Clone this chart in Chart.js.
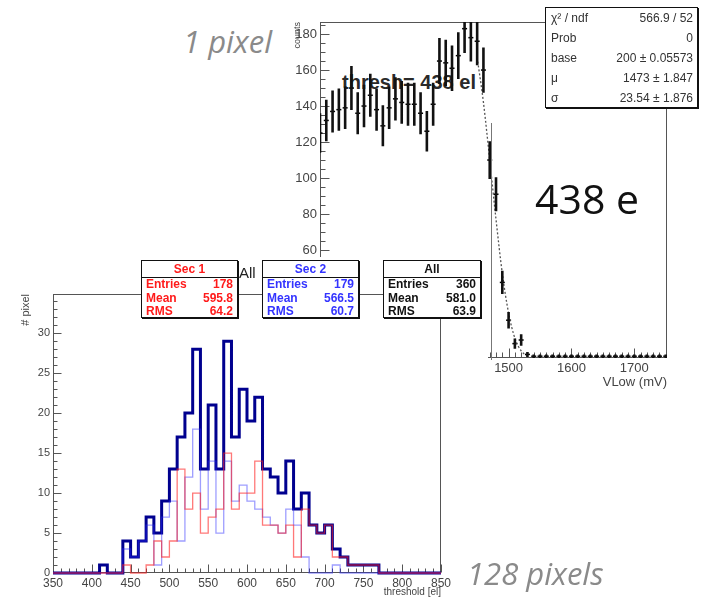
<!DOCTYPE html>
<html lang="en">
<head>
<meta charset="utf-8">
<title>VLow scan and threshold distribution</title>
<script src="https://cdn.jsdelivr.net/npm/chart.js@4.4.1/dist/chart.umd.min.js"></script>
<style>
  html, body { margin: 0; padding: 0; background: #fff; }
  body { position: relative; width: 706px; height: 597px; overflow: hidden; font-family: "Liberation Sans", Arial, sans-serif; }
  #scanBox { position: absolute; left: 290px; top: 0; z-index: 2; }
  #histBox { position: absolute; left: 0; top: 257px; width: 488px; height: 340px; background: #fff; z-index: 4; }
  .note { position: absolute; white-space: nowrap; line-height: 1; }
  .stats { position: absolute; box-sizing: border-box; background: #fff; border: 1px solid #111; box-shadow: 1px 1px 0 #111; z-index: 5; font: bold 12px "Liberation Sans", Arial, sans-serif; }
  .stats .head { text-align: center; height: 16px; line-height: 16px; border-bottom: 1px solid #111; }
  .stats .row { display: flex; justify-content: space-between; padding: 0 4px; height: 13.5px; line-height: 13.5px; }
  #fitStats { left: 545px; top: 7px; width: 153px; height: 101px; font-weight: normal; color: #333; z-index: 3; }
  #fitStats .row { height: 20px; line-height: 20px; padding: 0 4px 0 5px; }
</style>
</head>
<body>

<div class="note" style="left:342px; top:71px; font: bold 20px 'Liberation Sans', Arial, sans-serif; color:#2a2a2a; z-index:1;">thresh= 438 el</div>

<div id="scanBox"><canvas id="scan" width="416" height="390"></canvas></div>

<div id="fitStats" class="stats">
  <div class="row"><span>χ² / ndf</span><span>566.9 / 52</span></div>
  <div class="row"><span>Prob</span><span>0</span></div>
  <div class="row"><span>base</span><span>200 ± 0.05573</span></div>
  <div class="row"><span>μ</span><span>1473 ± 1.847</span></div>
  <div class="row"><span>σ</span><span>23.54 ± 1.876</span></div>
</div>

<div class="note" style="left:535px; top:170px; font: 41px 'Open Sans', sans-serif; color:#111; z-index:3;">438 e</div>

<div id="histBox"><canvas id="hist" width="488" height="340"></canvas></div>

<div class="stats" style="left:141px; top:260px; width:97px; height:58px; color:#ff1a1a;">
  <div class="head">Sec 1</div>
  <div class="row"><span>Entries</span><span>178</span></div>
  <div class="row"><span>Mean</span><span>595.8</span></div>
  <div class="row"><span>RMS</span><span>64.2</span></div>
</div>
<div class="note" style="left:239px; top:264px; font: 15px 'Liberation Sans', Arial, sans-serif; color:#222; z-index:5;">All</div>
<div class="stats" style="left:262px; top:260px; width:97px; height:58px; color:#3333ff;">
  <div class="head">Sec 2</div>
  <div class="row"><span>Entries</span><span>179</span></div>
  <div class="row"><span>Mean</span><span>566.5</span></div>
  <div class="row"><span>RMS</span><span>60.7</span></div>
</div>
<div class="stats" style="left:383px; top:260px; width:98px; height:58px; color:#111;">
  <div class="head">All</div>
  <div class="row"><span>Entries</span><span>360</span></div>
  <div class="row"><span>Mean</span><span>581.0</span></div>
  <div class="row"><span>RMS</span><span>63.9</span></div>
</div>

<div style="position:absolute; left:491px; top:123px; width:1px; height:237px; background:#777; z-index:5;"></div>

<div class="note" style="left:183px; top:20px; font: italic 31px 'Open Sans', sans-serif; color:#8a8a8a; z-index:5;">1 pixel</div>
<div class="note" style="left:467px; top:552px; font: italic 31px 'Open Sans', sans-serif; color:#8a8a8a; z-index:5;">128 pixels</div>

<script>
const FONT = '"Liberation Sans", Arial, sans-serif';

// upper plot: counts vs VLow (mV)
const vlow = [1200, 1210, 1220, 1230, 1240, 1250, 1260, 1270, 1280, 1290,
  1300, 1310, 1320, 1330, 1340, 1350, 1360, 1370, 1380, 1390,
  1400, 1410, 1420, 1430, 1440, 1450, 1460, 1470, 1480, 1490,
  1500, 1510, 1520, 1530, 1540, 1550, 1560, 1570, 1580, 1590,
  1600, 1610, 1620, 1630, 1640, 1650, 1660, 1670, 1680, 1690,
  1700, 1710, 1720, 1730, 1740, 1750];
const counts = [125, 132, 137, 138, 139, 150, 136, 140, 146, 138,
  129, 139, 144, 142, 141, 141, 136, 126, 141, 165,
  164, 161, 168, 183, 178, 176, 160, 110, 91, 42,
  21, 8, 10, 2, 1, 1, 1, 1, 1, 1,
  1, 1, 1, 1, 1, 1, 1, 1, 1, 1,
  1, 1, 1, 1, 1, 1];
const countErr = [11, 11.5, 11.7, 11.7, 11.8, 12.2, 11.7, 11.8, 12, 11.7,
  11.4, 11.8, 12, 11.9, 11.9, 11.9, 11.7, 11.2, 11.9, 12.8,
  12.8, 12.7, 13, 13.5, 13.3, 13.3, 12.6, 10.5, 9.5, 6.5,
  4.6, 2.8, 3.2, 1.4, 1, 1, 1, 1, 1, 1,
  1, 1, 1, 1, 1, 1, 1, 1, 1, 1,
  1, 1, 1, 1, 1, 1];
// fitted edge (dotted line)
const fitX = [1450, 1460, 1470, 1480, 1490, 1500, 1510, 1520, 1530];
const fitY = [167, 142, 110, 77, 47, 25, 11, 4, 1];

// lower plot: threshold distribution, 10 el bins from 350 to 850
const thrEdges = [350, 360, 370, 380, 390, 400, 410, 420, 430, 440,
  450, 460, 470, 480, 490, 500, 510, 520, 530, 540,
  550, 560, 570, 580, 590, 600, 610, 620, 630, 640,
  650, 660, 670, 680, 690, 700, 710, 720, 730, 740,
  750, 760, 770, 780, 790, 800, 810, 820, 830, 840, 850];
const sec1 = [0, 0, 0, 0, 0, 0, 0, 0, 0, 1,
  0, 0, 1, 4, 2, 4, 13, 8, 10, 5,
  7, 8, 15, 8, 10, 10, 14, 6, 6, 5,
  6, 2, 8, 6, 5, 6, 2, 2, 1, 1,
  1, 1, 0, 0, 0, 0, 0, 0, 0, 0];
const sec2 = [0, 0, 0, 0, 0, 0, 0, 0, 0, 3,
  2, 4, 6, 1, 7, 9, 4, 12, 18, 8,
  14, 5, 14, 9, 11, 9, 8, 7, 6, 5,
  8, 6, 2, 0, 0, 0, 1, 0, 0, 0,
  0, 0, 0, 0, 0, 0, 0, 0, 0, 0];
const allPix = [0, 0, 0, 0, 0, 0, 1, 0, 0, 4,
  2, 4, 7, 5, 9, 13, 17, 20, 28, 13,
  21, 13, 29, 17, 23, 19, 22, 13, 12, 10,
  14, 8, 10, 6, 5, 6, 3, 2, 1, 1,
  1, 1, 0, 0, 0, 0, 0, 0, 0, 0];

// ROOT style frame with inward ticks
const rootAxes = {
  id: 'rootAxes',
  beforeDatasetsDraw(chart, args, o) {
    const { ctx, chartArea: a, scales: { x, y } } = chart;
    const L = Math.round(a.left) + 0.5, R = Math.round(a.right) - 0.5;
    const T = Math.round(a.top) + 0.5, B = Math.round(a.bottom) - 0.5;
    ctx.save();
    ctx.strokeStyle = o.color;
    ctx.lineWidth = 1;
    ctx.strokeRect(L, T, R - L, B - T);
    ctx.beginPath();
    for (let v = Math.ceil(x.min / o.xMinor) * o.xMinor; v <= x.max; v += o.xMinor) {
      const px = Math.round(x.getPixelForValue(v)) + 0.5;
      const len = v % o.xMajor === 0 ? o.majorLen : o.minorLen;
      ctx.moveTo(px, B);
      ctx.lineTo(px, B - len);
    }
    for (let v = Math.ceil(y.min / o.yMinor) * o.yMinor; v <= y.max; v += o.yMinor) {
      const py = Math.round(y.getPixelForValue(v)) + 0.5;
      const len = v % o.yMajor === 0 ? o.majorLen : o.minorLen;
      ctx.moveTo(L, py);
      ctx.lineTo(L + len, py);
    }
    ctx.stroke();
    ctx.restore();
  }
};

const errorBars = {
  id: 'errorBars',
  afterDatasetsDraw(chart) {
    const { ctx, chartArea: a, scales: { x, y } } = chart;
    ctx.save();
    ctx.beginPath();
    ctx.rect(a.left, a.top, a.right - a.left, a.bottom - a.top);
    ctx.clip();
    ctx.strokeStyle = '#111';
    ctx.lineWidth = 2.6;
    ctx.beginPath();
    vlow.forEach((v, i) => {
      const px = x.getPixelForValue(v);
      ctx.moveTo(px, y.getPixelForValue(counts[i] - countErr[i]));
      ctx.lineTo(px, y.getPixelForValue(counts[i] + countErr[i]));
    });
    ctx.stroke();
    ctx.restore();
  }
};

const plain = v => String(v);

new Chart(document.getElementById('scan'), {
  type: 'scatter',
  data: {
    datasets: [
      {
        label: 'fit',
        data: fitX.map((v, i) => ({ x: v, y: fitY[i] })),
        showLine: true,
        borderColor: '#555',
        borderWidth: 1.3,
        borderDash: [2, 2],
        pointRadius: 0,
        cubicInterpolationMode: 'monotone'
      },
      {
        label: 'counts',
        data: vlow.map((v, i) => ({ x: v, y: counts[i] })),
        showLine: false,
        pointStyle: 'line',
        pointRadius: 2.5,
        pointBorderWidth: 1.5,
        borderColor: '#000',
        backgroundColor: '#000'
      }
    ]
  },
  options: {
    responsive: false,
    animation: false,
    events: [],
    layout: { padding: { top: 22, right: 39, left: 0, bottom: 0 } },
    plugins: {
      legend: { display: false },
      tooltip: { enabled: false },
      rootAxes: { color: '#555', xMinor: 10, xMajor: 100, yMinor: 5, yMajor: 20, majorLen: 9, minorLen: 5 }
    },
    scales: {
      x: {
        type: 'linear', min: 1200, max: 1752,
        afterFit: s => { s.height = 32; },
        grid: { display: false, drawTicks: false }, border: { display: false },
        ticks: { stepSize: 100, includeBounds: false, padding: 3, color: '#444', maxRotation: 0, autoSkip: false, callback: plain, font: { size: 13, family: FONT } },
        title: { display: true, text: 'VLow (mV)', align: 'end', color: '#444', padding: 0, font: { size: 13, family: FONT } }
      },
      y: {
        type: 'linear', min: 0, max: 186.7,
        afterFit: s => { s.width = 30; },
        grid: { display: false, drawTicks: false }, border: { display: false },
        ticks: { stepSize: 20, includeBounds: false, padding: 3, color: '#444', callback: plain, font: { size: 13, family: FONT } },
        title: { display: true, text: 'counts', align: 'end', color: '#444', padding: { top: 2, bottom: 0 }, font: { size: 9, family: FONT } }
      }
    }
  },
  plugins: [rootAxes, errorBars]
});

// outline of a histogram: both corners of every bin
function histPoints(arr) {
  const pts = [];
  arr.forEach((c, i) => {
    pts.push({ x: thrEdges[i], y: c });
    pts.push({ x: thrEdges[i + 1], y: c });
  });
  return pts;
}

new Chart(document.getElementById('hist'), {
  type: 'line',
  data: {
    datasets: [
      { label: 'Sec 1', data: histPoints(sec1), borderColor: 'rgba(255,30,30,0.6)', borderWidth: 1.3, pointRadius: 0, clip: 4 },
      { label: 'Sec 2', data: histPoints(sec2), borderColor: 'rgba(40,40,255,0.45)', borderWidth: 1.3, pointRadius: 0, clip: 4 },
      { label: 'All', data: histPoints(allPix), borderColor: '#00008f', borderWidth: 3, pointRadius: 0, borderJoinStyle: 'miter', clip: 4 }
    ]
  },
  options: {
    responsive: false,
    animation: false,
    events: [],
    layout: { padding: { top: 37, right: 47, left: 0, bottom: 0 } },
    plugins: {
      legend: { display: false },
      tooltip: { enabled: false },
      rootAxes: { color: '#555', xMinor: 10, xMajor: 50, yMinor: 1, yMajor: 5, majorLen: 8, minorLen: 4 }
    },
    scales: {
      x: {
        type: 'linear', min: 350, max: 850,
        afterFit: s => { s.height = 24; },
        grid: { display: false, drawTicks: false }, border: { display: false },
        ticks: { stepSize: 50, includeBounds: false, padding: 3, color: '#444', maxRotation: 0, autoSkip: false, callback: plain, font: { size: 12, family: FONT } },
        title: { display: true, text: 'threshold [el]', align: 'end', color: '#444', padding: 0, font: { size: 10, family: FONT, lineHeight: 1 } }
      },
      y: {
        type: 'linear', min: 0, max: 34.9,
        afterFit: s => { s.width = 53; },
        grid: { display: false, drawTicks: false }, border: { display: false },
        ticks: { stepSize: 5, includeBounds: false, padding: 3, color: '#444', callback: plain, font: { size: 11, family: FONT } },
        title: { display: true, text: '# pixel', align: 'end', color: '#444', padding: { top: 19, bottom: 0 }, font: { size: 11, family: FONT } }
      }
    }
  },
  plugins: [rootAxes]
});
</script>
</body>
</html>
